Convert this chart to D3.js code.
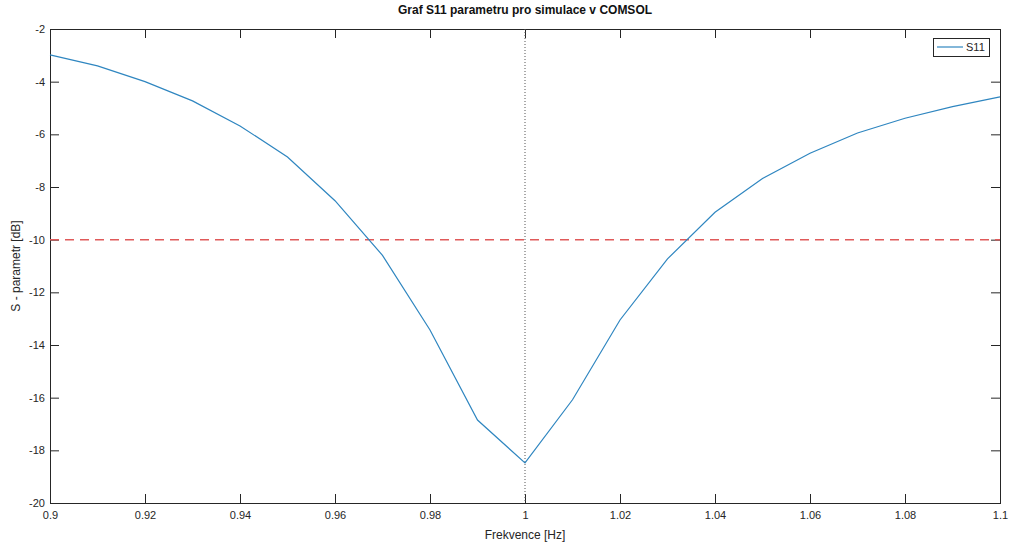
<!DOCTYPE html>
<html lang="cs">
<head>
<meta charset="utf-8">
<title>Graf S11 parametru</title>
<script src="https://d3js.org/d3.v7.min.js"></script>
<style>
    body { margin: 0; background: #fff; }
    svg { display: block; font-family: "Liberation Sans", Arial, sans-serif; }
    .tick text { fill: #262626; font-size: 11px; }
</style>
</head>
<body>
<div id="chart"></div>
<script>
// frekvence a hodnoty S11
var freq = [0.90, 0.91, 0.92, 0.93, 0.94, 0.95, 0.96, 0.97, 0.98, 0.99, 1.00,
            1.01, 1.02, 1.03, 1.04, 1.05, 1.06, 1.07, 1.08, 1.09, 1.10];
var s11 = [-2.98, -3.4, -4.0, -4.73, -5.68, -6.86, -8.52, -10.6, -13.43, -16.85, -18.48,
           -16.08, -13.05, -10.73, -8.96, -7.68, -6.72, -5.95, -5.39, -4.95, -4.58];
var xTicks = [0.9, 0.92, 0.94, 0.96, 0.98, 1, 1.02, 1.04, 1.06, 1.08, 1.1];
var yTicks = [-20, -18, -16, -14, -12, -10, -8, -6, -4, -2];
var threshold = -10;
var centerFreq = 1;

var width = 1011, height = 543;
var margin = {top: 29, right: 11, bottom: 40, left: 50};
var iw = width - margin.left - margin.right;
var ih = height - margin.top - margin.bottom;
var axisColor = "#262626";
var tickLen = 9;

var svg = d3.select("#chart").append("svg")
    .attr("width", width)
    .attr("height", height);

var g = svg.append("g")
    .attr("transform", "translate(" + margin.left + "," + margin.top + ")");

var x = d3.scaleLinear().domain([0.9, 1.1]).range([0, iw]);
var y = d3.scaleLinear().domain([-20, -2]).range([ih, 0]);

var fmt = function(d){ return String(+d.toFixed(2)); };

// osy (tiky smerem dovnitr, box)
function styleAxis(sel) {
    sel.select(".domain").remove();
    sel.selectAll(".tick line").attr("stroke", axisColor);
}

g.append("g")
    .attr("transform", "translate(0," + ih + ")")
    .call(d3.axisBottom(x).tickValues(xTicks).tickFormat(fmt).tickSizeInner(-tickLen).tickSizeOuter(0).tickPadding(7))
    .call(styleAxis)
    .call(function(s){ s.selectAll(".tick text").attr("dy", "0.85em"); });

g.append("g")
    .call(d3.axisTop(x).tickValues(xTicks).tickFormat("").tickSizeInner(-tickLen).tickSizeOuter(0))
    .call(styleAxis);

g.append("g")
    .call(d3.axisLeft(y).tickValues(yTicks).tickFormat(fmt).tickSizeInner(-tickLen).tickSizeOuter(0).tickPadding(5))
    .call(styleAxis);

g.append("g")
    .attr("transform", "translate(" + iw + ",0)")
    .call(d3.axisRight(y).tickValues(yTicks).tickFormat("").tickSizeInner(-tickLen).tickSizeOuter(0))
    .call(styleAxis);

g.append("rect")
    .attr("width", iw).attr("height", ih)
    .attr("fill", "none")
    .attr("stroke", axisColor)
    .attr("stroke-width", 1)
    .attr("shape-rendering", "crispEdges");

// hranice -10 dB
g.append("line")
    .attr("x1", 0).attr("x2", iw)
    .attr("y1", y(threshold)).attr("y2", y(threshold))
    .attr("stroke", "#e05a5a")
    .attr("stroke-width", 1.5)
    .attr("stroke-dasharray", "9,6");

// stredni frekvence
g.append("line")
    .attr("x1", x(centerFreq)).attr("x2", x(centerFreq))
    .attr("y1", 0).attr("y2", ih)
    .attr("stroke", "#555")
    .attr("stroke-width", 1)
    .attr("stroke-dasharray", "1,2");

var line = d3.line()
    .x(function(d){ return x(d[0]); })
    .y(function(d){ return y(d[1]); });

g.append("path")
    .datum(d3.zip(freq, s11))
    .attr("d", line)
    .attr("fill", "none")
    .attr("stroke", "#2f86c0")
    .attr("stroke-width", 1.2);

// legenda
var leg = g.append("g").attr("transform", "translate(" + (iw - 67) + ",9)");
leg.append("rect")
    .attr("width", 56).attr("height", 18)
    .attr("fill", "#fff")
    .attr("stroke", axisColor)
    .attr("stroke-width", 1)
    .attr("shape-rendering", "crispEdges");
leg.append("line")
    .attr("x1", 4).attr("x2", 30).attr("y1", 9).attr("y2", 9)
    .attr("stroke", "#2f86c0").attr("stroke-width", 1.2);
leg.append("text")
    .attr("x", 33).attr("y", 13)
    .attr("font-size", 11).attr("fill", axisColor)
    .text("S11");

// popisky
svg.append("text")
    .attr("x", margin.left + iw / 2).attr("y", 14)
    .attr("text-anchor", "middle")
    .attr("font-size", 12).attr("font-weight", "bold")
    .attr("fill", "#111")
    .text("Graf S11 parametru pro simulace v COMSOL");

svg.append("text")
    .attr("x", margin.left + iw / 2).attr("y", 539)
    .attr("text-anchor", "middle")
    .attr("font-size", 12).attr("fill", axisColor)
    .text("Frekvence [Hz]");

svg.append("text")
    .attr("transform", "translate(20," + (margin.top + ih / 2) + ") rotate(-90)")
    .attr("text-anchor", "middle")
    .attr("font-size", 12).attr("fill", axisColor)
    .text("S - parametr [dB]");
</script>
</body>
</html>
